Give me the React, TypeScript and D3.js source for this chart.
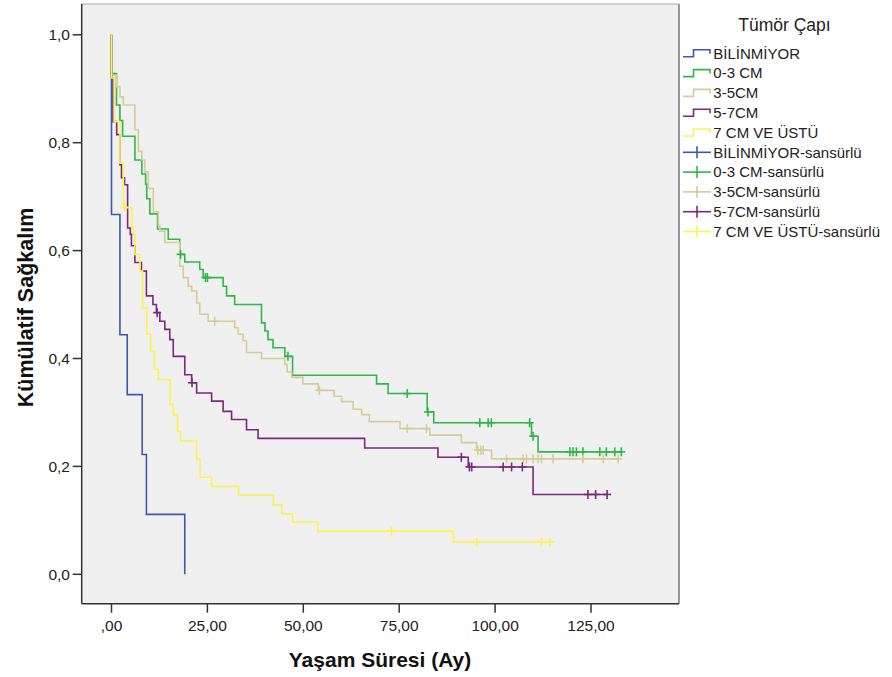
import React from "react";
import * as d3 from "d3";

const W = 892;
const H = 677;

const groupNames = ["BİLİNMİYOR", "0-3 CM", "3-5CM", "5-7CM", "7 CM VE ÜSTÜ"];
const groupColors = ["#3E58AC", "#2EB848", "#D3CE97", "#7C287D", "#FBF450"];

const xTicks = [0, 25, 50, 75, 100, 125];
const xTickLabels = [",00", "25,00", "50,00", "75,00", "100,00", "125,00"];
const yTicks = [0, 0.2, 0.4, 0.6, 0.8, 1.0];
const yTickLabels = ["0,0", "0,2", "0,4", "0,6", "0,8", "1,0"];

// BİLİNMİYOR
const blueTimes = [0, 2.2, 4.1, 8.0, 9.1, 19.1];
const blueSurv = [0.667, 0.444, 0.333, 0.222, 0.111, 0];
const blueCensor: number[] = [];

// 0-3 CM
const greenTimes = [0, 1.3, 2.2, 2.9, 6.1, 7.9, 8.9, 9.2, 10.0, 12.0, 14.8, 17.8, 19.1, 23.0, 23.9, 29.1, 30.0, 32.1, 39.1, 40.0, 40.8, 42.1, 45.2, 47.2, 69.1, 72.1, 82.3, 84.0, 109.5, 111.2];
const greenSurv = [0.928, 0.870, 0.841, 0.812, 0.768, 0.742, 0.723, 0.696, 0.668, 0.640, 0.621, 0.593, 0.579, 0.565, 0.550, 0.534, 0.516, 0.500, 0.466, 0.451, 0.435, 0.420, 0.404, 0.369, 0.353, 0.335, 0.301, 0.281, 0.256, 0.227];
const greenCensor = [18.0, 24.5, 25.0, 46.0, 77.1, 82.5, 96.0, 98.2, 99.0, 109.0, 109.9, 119.5, 120.3, 121.2, 122.9, 127.3, 129.0, 131.2, 132.9];

// 3-5CM
const tanTimes = [0, 1.35, 2.2, 3.1, 6.1, 7.0, 7.9, 8.7, 9.6, 10.9, 12.2, 12.6, 13.9, 17.8, 18.7, 20.0, 20.9, 22.2, 23.0, 25.2, 32.1, 33.0, 34.3, 35.2, 39.1, 45.2, 45.8, 47.0, 49.9, 53.9, 58.0, 60.0, 63.0, 65.2, 67.2, 75.2, 83.0, 91.2, 95.2, 99.1];
const tanSurv = [0.925, 0.904, 0.885, 0.870, 0.824, 0.784, 0.768, 0.746, 0.715, 0.672, 0.647, 0.636, 0.615, 0.571, 0.550, 0.534, 0.525, 0.503, 0.482, 0.469, 0.457, 0.445, 0.433, 0.411, 0.400, 0.389, 0.375, 0.365, 0.353, 0.341, 0.330, 0.320, 0.306, 0.296, 0.283, 0.270, 0.258, 0.244, 0.230, 0.214];
const tanCensor = [26.9, 54.2, 77.1, 82.1, 95.5, 96.3, 96.9, 103.0, 107.3, 108.2, 109.9, 111.2, 112.1, 115.1, 122.9, 128.2, 132.1];

// 5-7CM
const purpleTimes = [0, 0.4, 1.35, 2.2, 2.6, 3.4, 4.2, 4.9, 5.2, 6.1, 7.8, 9.1, 10.8, 11.7, 12.6, 13.9, 15.2, 16.1, 19.1, 20.9, 22.2, 26.1, 29.1, 31.3, 35.2, 38.2, 66.0, 85.1, 93.0, 109.9];
const purpleSurv = [0.92, 0.839, 0.815, 0.759, 0.735, 0.722, 0.642, 0.630, 0.609, 0.578, 0.562, 0.516, 0.500, 0.485, 0.469, 0.454, 0.435, 0.404, 0.370, 0.355, 0.336, 0.321, 0.302, 0.287, 0.268, 0.252, 0.234, 0.217, 0.199, 0.148];
const purpleCensor = [11.9, 21.0, 91.2, 93.3, 93.9, 102.1, 104.3, 107.1, 124.2, 126.2, 129.2];

// 7 CM VE ÜSTÜ
const yellowTimes = [0, 0.7, 2.2, 3.1, 5.3, 5.7, 6.1, 7.4, 8.1, 9.2, 10.2, 11.2, 12.2, 15.3, 16.1, 17.2, 18.0, 22.2, 23.1, 26.1, 33.1, 42.2, 44.4, 47.2, 53.8, 89.1];
const yellowSurv = [0.92, 0.839, 0.762, 0.680, 0.643, 0.630, 0.593, 0.562, 0.494, 0.445, 0.414, 0.380, 0.361, 0.315, 0.296, 0.265, 0.247, 0.213, 0.180, 0.163, 0.147, 0.129, 0.112, 0.097, 0.080, 0.060];
const yellowCensor = [3.4, 73.0, 95.2, 112.1, 114.3];

const seriesTimes = [blueTimes, greenTimes, tanTimes, purpleTimes, yellowTimes];
const seriesSurv = [blueSurv, greenSurv, tanSurv, purpleSurv, yellowSurv];
const seriesCensor = [blueCensor, greenCensor, tanCensor, purpleCensor, yellowCensor];

const legendTitle = "Tümör Çapı";
const censorSuffix = "-sansürlü";

const PL = 81.7, PR = 679, PT = 4, PB = 603.7;
const FONT = "'Liberation Sans', Arial, sans-serif";

function survAt(times: number[], surv: number[], t: number) {
  let v = 1;
  for (let i = 0; i < times.length; i++) {
    if (times[i] <= t) v = surv[i];
  }
  return v;
}

export default function App() {
  const x = d3.scaleLinear().domain([0, 125]).range([111.5, 591]);
  const y = d3.scaleLinear().domain([0, 1]).range([574.3, 34.8]);
  const line = d3
    .line<[number, number]>()
    .x((d) => x(d[0]))
    .y((d) => y(d[1]))
    .curve(d3.curveStepAfter);

  const paths = seriesTimes.map((times, gi) => {
    const surv = seriesSurv[gi];
    const cens = seriesCensor[gi];
    const pts: [number, number][] = [[0, 1]];
    times.forEach((t, i) => pts.push([t, surv[i]]));
    const lastT = Math.max(times[times.length - 1], cens.length ? cens[cens.length - 1] : 0);
    pts.push([lastT, surv[surv.length - 1]]);
    return line(pts) || "";
  });

  const legendRowY = (i: number) => 53.3 + i * 19.8;

  return (
    <svg
      width={W}
      height={H}
      style={{ position: "fixed", left: 0, top: 0, background: "#fff" }}
      fontFamily={FONT}
    >
      <rect x={0} y={0} width={W} height={H} fill="#ffffff" />
      <rect x={PL} y={PT} width={PR - PL} height={PB - PT} fill="#F0F0F0" />

      {/* curves */}
      {paths.map((p, gi) => (
        <path key={gi} d={p} fill="none" stroke={groupColors[gi]} strokeWidth={1.6} />
      ))}
      {/* censor marks */}
      {seriesCensor.map((cens, gi) =>
        cens.map((t, ci) => {
          const cx = x(t);
          const cy = y(survAt(seriesTimes[gi], seriesSurv[gi], t));
          return (
            <g key={`${gi}-${ci}`} stroke={groupColors[gi]} strokeWidth={1.6}>
              <line x1={cx - 4} x2={cx + 4} y1={cy} y2={cy} />
              <line x1={cx} x2={cx} y1={cy - 4.5} y2={cy + 4.5} />
            </g>
          );
        })
      )}

      {/* frame */}
      <line x1={PL} x2={PR} y1={PT} y2={PT} stroke="#a8a8a8" strokeWidth={1} />
      <line x1={PR} x2={PR} y1={PT} y2={PB} stroke="#777" strokeWidth={1.5} />
      <line x1={PL} x2={PL} y1={PT} y2={PB} stroke="#333" strokeWidth={1.5} />
      <line x1={PL} x2={PR} y1={PB} y2={PB} stroke="#333" strokeWidth={1.5} />

      {/* y axis */}
      {yTicks.map((v, i) => (
        <g key={i}>
          <line x1={PL - 9} x2={PL} y1={y(v)} y2={y(v)} stroke="#333" strokeWidth={1.5} />
          <text x={70} y={y(v) + 5.5} textAnchor="end" fontSize={15.5} fill="#222">
            {yTickLabels[i]}
          </text>
        </g>
      ))}
      {/* x axis */}
      {xTicks.map((v, i) => (
        <g key={i}>
          <line x1={x(v)} x2={x(v)} y1={PB} y2={PB + 9} stroke="#333" strokeWidth={1.5} />
          <text x={x(v)} y={631} textAnchor="middle" fontSize={15.5} fill="#222">
            {xTickLabels[i]}
          </text>
        </g>
      ))}

      <text x={380} y={667} textAnchor="middle" fontSize={21} fontWeight="bold" fill="#111">
        Yaşam Süresi (Ay)
      </text>
      <text
        transform="translate(33,307.5) rotate(-90)"
        textAnchor="middle"
        fontSize={21.5}
        fontWeight="bold"
        fill="#111"
      >
        Kümülatif Sağkalım
      </text>

      {/* legend */}
      <text x={784.5} y={31} textAnchor="middle" fontSize={17.5} fill="#222">
        {legendTitle}
      </text>
      {groupNames.map((name, i) => {
        const cy = legendRowY(i);
        return (
          <g key={`l${i}`}>
            <path
              d={`M683,${cy + 3.5}H693.5V${cy - 3.5}H710V${cy + 0.5}`}
              fill="none"
              stroke={groupColors[i]}
              strokeWidth={1.6}
            />
            <text x={713.3} y={cy + 5.3} fontSize={15} fill="#222">
              {name}
            </text>
          </g>
        );
      })}
      {groupNames.map((name, i) => {
        const cy = legendRowY(i + 5);
        return (
          <g key={`c${i}`}>
            <line x1={683} x2={711} y1={cy} y2={cy} stroke={groupColors[i]} strokeWidth={1.6} />
            <line x1={697} x2={697} y1={cy - 6} y2={cy + 6} stroke={groupColors[i]} strokeWidth={1.6} />
            <text x={713.3} y={cy + 5.3} fontSize={15} fill="#222">
              {name + censorSuffix}
            </text>
          </g>
        );
      })}
    </svg>
  );
}
